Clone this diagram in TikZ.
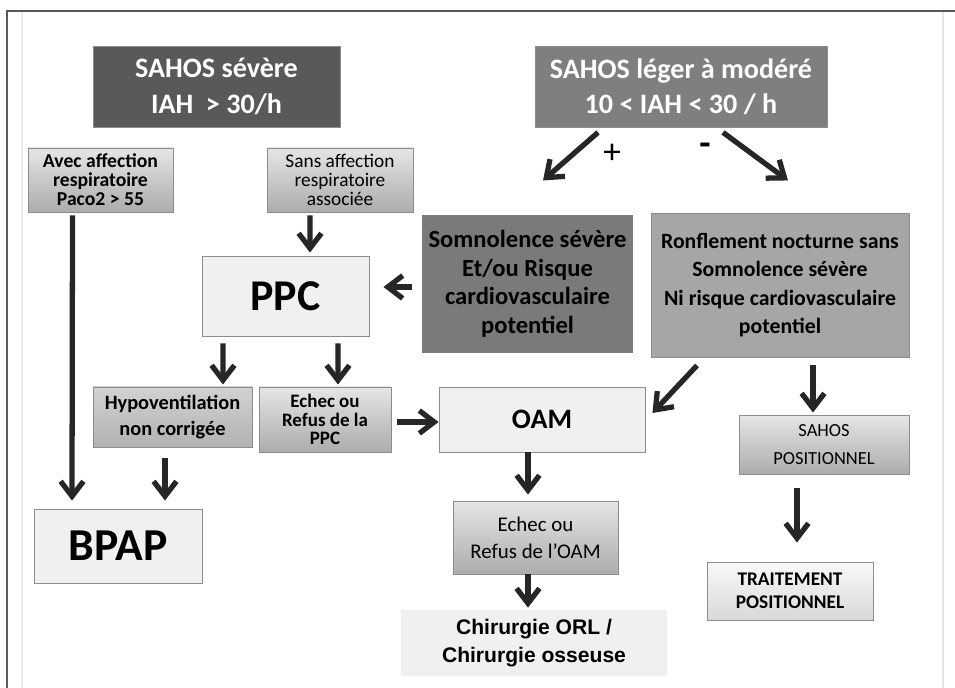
\documentclass[tikz,border=0pt]{standalone}
\usepackage{fontspec}
\setmainfont{Carlito}
\newfontfamily\arialfont{Liberation Sans}
\usepackage{tikz}
\usetikzlibrary{calc,arrows.meta,shadows}

\definecolor{darkbox}{HTML}{595959}
\definecolor{midbox}{HTML}{7F7F7F}
\definecolor{somnbox}{HTML}{7A7A7A}
\definecolor{ronfbox}{HTML}{A6A6A6}
\definecolor{lightbox}{HTML}{F0F0F0}
\definecolor{hypobox}{HTML}{C6C6C6}
\definecolor{edgegray}{HTML}{8C8C8C}
\definecolor{arrowgray}{HTML}{262626}

\begin{document}
\begin{tikzpicture}[x=0.02cm,y=-0.02cm,
	sz/.style 2 args={minimum width=#1*0.02cm,minimum height=#2*0.02cm},
	box/.style={draw=edgegray,line width=0.5pt,inner sep=0pt,align=center,
		drop shadow={shadow xshift=0.7pt,shadow yshift=-0.7pt,opacity=0.35}},
	shadebox/.style={box,top color=#1!20,bottom color=#1!65},
	arr/.style={draw=arrowgray,line width=3pt,-{Straight Barb[length=8.5pt,width=13pt]}}]
		\useasboundingbox (0,0) rectangle (955,688);
		% frame of the screenshot
		\draw[gray!15,line width=0.6pt] (22,11) -- (22,688);
		\draw[gray!20,line width=0.6pt] (943,11) -- (943,688);
		\draw[gray!70!black,line width=0.9pt] (7,688) -- (7,11) -- (955,11);

		\node[box,fill=darkbox,text=white,sz={247}{81},font=\bfseries\fontsize{16}{20}\selectfont] (sev) at (216.5,86.5) {SAHOS sévère\\IAH\ \ > 30/h};
		\node[box,fill=midbox,text=white,sz={292}{81},font=\bfseries\fontsize{16}{20}\selectfont] (leg) at (681,86.5) {SAHOS léger à modéré\\10 < IAH < 30 / h};

		\node[shadebox=gray,sz={145}{64},font=\bfseries\fontsize{11.2}{10.8}\selectfont] (avec) at (100.5,180) {Avec affection\\respiratoire\\Paco2 > 55};
		\node[shadebox=gray,sz={146}{64},font=\fontsize{11}{10.8}\selectfont] (sans) at (340,180) {Sans affection\\respiratoire\\associée};

		\node[box,fill=lightbox,sz={167}{80},font=\bfseries\fontsize{25}{28}\selectfont] (ppc) at (285.5,296) {PPC};
		\node[box,fill=somnbox,draw=white,line width=2.5pt,sz={215}{142},font=\bfseries\fontsize{14}{16.2}\selectfont] (somn) at (527.5,284) {Somnolence sévère\\Et/ou Risque\\cardiovasculaire\\potentiel};
		\node[box,fill=ronfbox,sz={258}{144},font=\bfseries\fontsize{12.4}{16.2}\selectfont] (ronf) at (780,285) {Ronflement nocturne sans\\Somnolence sévère\\Ni risque cardiovasculaire\\potentiel};

		\node[box,top color=hypobox!80!white,bottom color=hypobox!90!black,sz={159}{60},font=\bfseries\fontsize{11.6}{15.2}\selectfont] (hypo) at (172.5,417) {Hypoventilation\\non corrigée};
		\node[shadebox=gray,sz={132}{65},font=\bfseries\fontsize{10.8}{10.5}\selectfont] (echppc) at (325,419.5) {Echec ou\\Refus de la\\PPC};
		\node[box,fill=lightbox,sz={206}{65},font=\bfseries\fontsize{16}{20}\selectfont] (oam) at (542,419.5) {OAM};

		\node[box,fill=lightbox,sz={168}{74},font=\bfseries\fontsize{26}{30}\selectfont] (bpap) at (118,546) {BPAP};
		\node[shadebox=gray,sz={165}{73},font=\fontsize{11.9}{15.3}\selectfont] (echoam) at (535.5,537.5) {Echec ou\\Refus de l’OAM};
		\node[fill=lightbox,inner sep=0pt,align=center,sz={266}{66},font=\arialfont\bfseries\fontsize{12}{15.5}\selectfont] (chir) at (534,643) {Chirurgie ORL /\\Chirurgie osseuse};

		\node[shadebox=gray,sz={170}{59},font=\fontsize{10.5}{16}\selectfont] (spos) at (824,444.5) {SAHOS\\POSITIONNEL};
		\node[box,top color=gray!5,bottom color=gray!30,sz={166}{58},font=\bfseries\fontsize{11}{13}\selectfont] (trait) at (790,591) {TRAITEMENT\\POSITIONNEL};

		\node[font=\fontsize{20}{20}\selectfont] (plus) at (612,154) {+};
		\node[font=\bfseries\fontsize{21}{21}\selectfont] (minus) at (705,149) {-};

		\draw[arr] ($(leg.south)+(-83,5)$) -- ++(-55,48);
		\draw[arr] ($(leg.south)+(42,5)$) -- ++(65,48);
		\draw[arr] ($(avec.south)+(-28,3)$) -- ($(bpap.north)+(-46,-8)$);
		\draw[arr] ($(sans.south)+(-30,3)$) -- ($(ppc.north)+(24.5,-3)$);
		\draw[arr] ($(somn.west)+(-6,3)$) -- ($(ppc.east)+(14,-9)$);
		\draw[arr] ($(ppc.south)+(-62.5,7)$) -- ($(hypo.north)+(50.5,-2)$);
		\draw[arr] ($(ppc.south)+(52.5,7)$) -- ($(echppc.north)+(13,-2)$);
		\draw[arr] ($(echppc.east)+(6,2.5)$) -- ($(oam.west)+(0,2.5)$);
		\draw[arr] ($(hypo.south)+(-7.5,11)$) -- ($(bpap.north)+(47,-8)$);
		\draw[arr] ($(ronf.south)+(-83,8)$) -- ($(oam.east)+(7,-6.5)$);
		\draw[arr] ($(ronf.south)+(33,8)$) -- ($(spos.north)+(-11,-2)$);
		\draw[arr] ($(oam.south)+(-14,0)$) -- ($(echoam.north)+(-7.5,-6)$);
		\draw[arr] ($(echoam.south)+(-7.5,0)$) -- ($(chir.north)+(-6,-2)$);
		\draw[arr] ($(spos.south)+(-27,14)$) -- ($(trait.north)+(7,-19)$);
	\end{tikzpicture}
\end{document}
